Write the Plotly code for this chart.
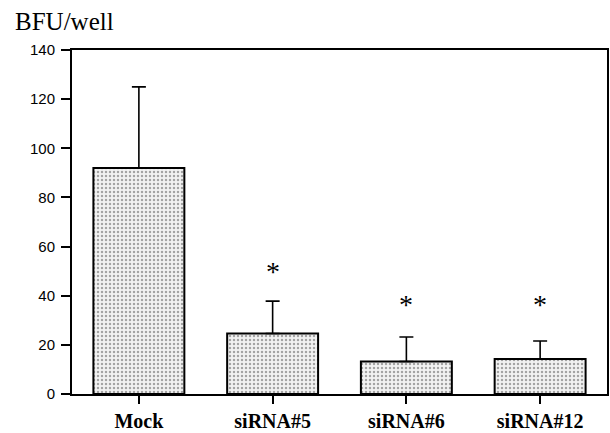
import plotly.graph_objects as go

categories = ["Mock", "siRNA#5", "siRNA#6", "siRNA#12"]
values = [92, 24.6, 13.2, 14.2]
err_plus = [33, 13.2, 10.0, 7.4]
star_y = [None, 52, 38.5, 38.5]
y_ticks = [0, 20, 40, 60, 80, 100, 120, 140]

fig = go.Figure()
fig.add_trace(go.Bar(
    x=categories, y=values, width=0.68,
    marker=dict(
        color="white",
        line=dict(color="black", width=2),
        pattern=dict(shape=".", fgcolor="#555555", bgcolor="#f2f2f2", size=4, solidity=0.3),
    ),
    error_y=dict(type="data", symmetric=False, array=err_plus, arrayminus=[0]*4,
                 color="black", thickness=1.6, width=7),
    showlegend=False,
))

for c, s in zip(categories, star_y):
    if s is not None:
        fig.add_annotation(x=c, y=s, text="*", showarrow=False,
                           font=dict(family="Liberation Serif", size=28, color="black"),
                           yanchor="middle", xanchor="center", yshift=-5)

fig.add_annotation(xref="paper", yref="paper", x=(13-72)/537, y=(395-21)/345,
                   text="BFU/well", showarrow=False, xanchor="left", yanchor="middle",
                   font=dict(family="Liberation Serif", size=25, color="black"))

fig.update_layout(
    width=610, height=433,
    margin=dict(l=72, r=1, t=50, b=38),
    paper_bgcolor="white", plot_bgcolor="white",
)
fig.update_xaxes(
    range=[-0.5, 3.5], showline=True, linecolor="black", linewidth=2, mirror=True,
    ticks="outside", ticklen=8, tickwidth=2, tickcolor="black",
    tickfont=dict(family="Liberation Serif", size=20, color="black", weight="bold"),
    showgrid=False, zeroline=False,
)
fig.update_yaxes(
    range=[0, 140], tickvals=y_ticks, showline=True, linecolor="black", linewidth=2, mirror=True,
    ticks="outside", ticklen=9, tickwidth=2, tickcolor="black", ticklabelstandoff=3,
    tickfont=dict(family="Liberation Sans", size=15, color="black"),
    showgrid=False, zeroline=False,
)

fig.write_html("out.html")
